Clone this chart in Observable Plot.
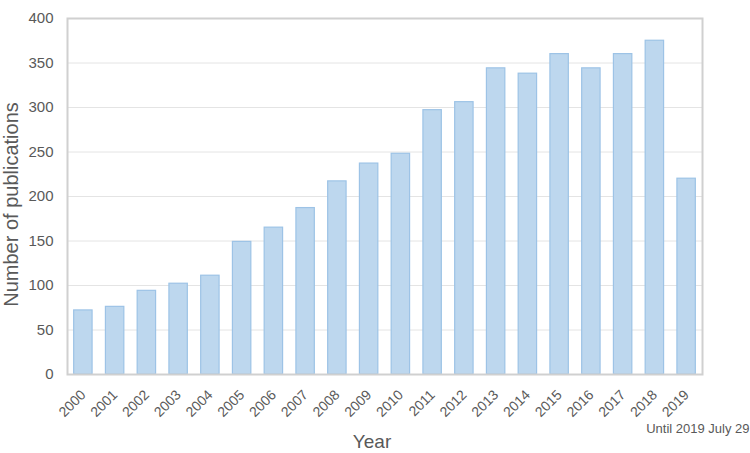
<!DOCTYPE html>
<html>
<head>
<meta charset="utf-8">
<script src="https://cdn.jsdelivr.net/npm/d3@7"></script>
<script src="https://cdn.jsdelivr.net/npm/@observablehq/plot@0.6"></script>
<style>
  body { margin: 0; background: #fff; }
  #chart svg { font-family: "Liberation Sans", Arial, sans-serif; }
</style>
</head>
<body>
<div id="chart"></div>
<script>
const years = ["2000","2001","2002","2003","2004","2005","2006","2007","2008","2009","2010","2011","2012","2013","2014","2015","2016","2017","2018","2019"];
const counts = [72, 76, 94, 102, 111, 149, 165, 187, 217, 237, 248, 297, 306, 344, 338, 360, 344, 360, 375, 220];
const yTicks = [0, 50, 100, 150, 200, 250, 300, 350, 400];
const yLabel = "Number of publications";
const xLabel = "Year";
const note = "Until 2019 July 29";

const data = years.map((y, i) => ({year: y, count: counts[i]}));

const chart = Plot.plot({
  width: 750,
  height: 453,
  marginLeft: 67,
  marginRight: 48,
  marginTop: 18,
  marginBottom: 79,
  style: {color: "#595959", background: "#fff"},
  x: {domain: years, paddingInner: 0.42, paddingOuter: 0.21, align: 0.5, round: false},
  y: {domain: [0, 400]},
  marks: [
    Plot.gridY(yTicks, {stroke: "#e4e4e4", strokeOpacity: 1, strokeWidth: 1}),
    Plot.barY(data, {x: "year", y: "count", fill: "#bdd7ee", stroke: "#9dc3e6", strokeWidth: 1.2}),
    Plot.frame({stroke: "#d0d0d0", strokeWidth: 2}),
    Plot.axisY(yTicks, {tickSize: 0, tickPadding: 14, fontSize: 15, label: null}),
    Plot.axisX({tickSize: 0, tickPadding: 18, tickRotate: -45, fontSize: 14, label: null}),
    Plot.text([yLabel], {frameAnchor: "left", rotate: -90, dx: -56, dy: 8, textAnchor: "middle", lineAnchor: "middle", fontSize: 20, fill: "#595959"}),
    Plot.text([xLabel], {frameAnchor: "bottom", dx: -13, dy: 73, textAnchor: "middle", lineAnchor: "bottom", fontSize: 19, fill: "#595959"}),
    Plot.text([note], {frameAnchor: "bottom-right", dx: 47, dy: 58, textAnchor: "end", lineAnchor: "bottom", fontSize: 13, fill: "#595959"})
  ]
});
document.getElementById("chart").appendChild(chart);
</script>
</body>
</html>
